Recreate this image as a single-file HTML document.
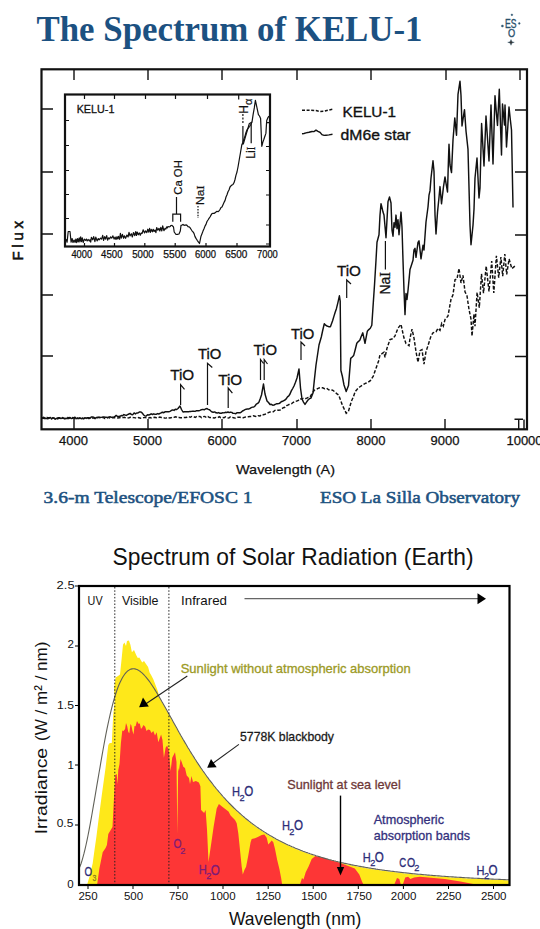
<!DOCTYPE html>
<html><head><meta charset="utf-8">
<style>
html,body{margin:0;padding:0;background:#fff;width:540px;height:929px;overflow:hidden}
svg{display:block}
.sans{font-family:"Liberation Sans",sans-serif}
.serif{font-family:"Liberation Serif",serif}
</style></head>
<body>
<svg width="540" height="929" viewBox="0 0 540 929">
<!-- ===== TITLE ===== -->
<text class="serif" x="36.5" y="40.5" font-size="35" font-weight="bold" fill="#1c5181" textLength="386" lengthAdjust="spacingAndGlyphs">The Spectrum of KELU-1</text>
<!-- ESO logo -->
<g fill="#28506c" stroke="#28506c" stroke-width="0.35">
<circle cx="511.9" cy="14.8" r="0.9"/>
<circle cx="502.4" cy="26" r="1.1"/>
<circle cx="519.3" cy="23.4" r="0.9"/>
<text class="sans" x="510.7" y="27.6" font-size="12.5" text-anchor="middle" textLength="11.5" lengthAdjust="spacingAndGlyphs">ES</text>
<text class="sans" x="511.5" y="37.2" font-size="11.5" text-anchor="middle" textLength="7.2" lengthAdjust="spacingAndGlyphs">O</text>
<path d="M511 39.5 L512 41.8 L514.3 42.3 L512 43 L511 45.3 L510 43 L507.7 42.3 L510 41.8Z" fill="#333"/>
</g>

<!-- ===== CHART 1 ===== -->
<g id="c1" stroke="#111" fill="none">
<rect x="41.5" y="69.3" width="485.5" height="360" stroke-width="2.2"/>
<!-- top ticks -->
<path d="M74 69.5V80 M148 69.5V80 M222 69.5V80 M297 69.5V80 M371 69.5V80 M446 69.5V80 M520 69.5V80" stroke-width="1.4"/>
<!-- bottom ticks -->
<path d="M74 429V419 M148 429V419 M222 429V419 M297 429V419 M371 429V419 M445 429V419 M518.7 429V419.5 M524 429V419.5 M514.5 419.3H523" stroke-width="1.4"/>
<!-- left ticks -->
<path d="M41.5 109H53 M41.5 172H53 M41.5 234H53 M41.5 295H53 M41.5 356H53" stroke-width="1.4"/>
<!-- right ticks -->
<path d="M527 110H515 M527 172H515 M527 235H515 M527 295.5H515 M527 356.5H515" stroke-width="1.4"/>
</g>
<g class="sans" font-size="13" fill="#111" stroke="#111" stroke-width="0.25" text-anchor="middle">
<text x="73.5" y="445">4000</text>
<text x="147.5" y="445">5000</text>
<text x="222" y="445">6000</text>
<text x="296.5" y="445">7000</text>
<text x="371" y="445">8000</text>
<text x="445" y="445">9000</text>
<text x="524.5" y="445">10000</text>
</g>
<text class="sans" x="236" y="473.5" font-size="13.5" fill="#111" stroke="#111" stroke-width="0.25" textLength="99" lengthAdjust="spacingAndGlyphs">Wavelength (A)</text>
<text class="sans" transform="translate(23.2,260.5) rotate(-90)" font-size="15" fill="#111" stroke="#111" stroke-width="0.6" textLength="39.5" lengthAdjust="spacing">Flux</text>

<!-- inset -->
<g stroke="#111" fill="none">
<rect x="65" y="94.5" width="205" height="152" stroke-width="2.2"/>
</g>
<text class="sans" x="76.7" y="112.8" font-size="11" fill="#111" stroke="#111" stroke-width="0.3" textLength="37.7" lengthAdjust="spacingAndGlyphs">KELU-1</text>

<!-- legend -->
<path d="M302 110.2L309 110.2L316 110.6L320 111.4L324 111.2L328 110.2L332.5 109.3" stroke="#111" stroke-width="1.5" stroke-dasharray="3 1.6" fill="none"/>
<path d="M302 133.8L304 133.5L306 132.9L309 132.3L312 131.5L314 131.6L316 130.1L318 131.3L320 132.4L322 134.7L324 135.4L326 135.2L329 134.9L332.5 134.3" stroke="#111" stroke-width="1.4" fill="none"/>
<text class="sans" x="342.5" y="116.5" font-size="15" fill="#111" stroke="#111" stroke-width="0.35" textLength="53.5" lengthAdjust="spacingAndGlyphs">KELU-1</text>
<text class="sans" x="340.6" y="140" font-size="15" fill="#111" stroke="#111" stroke-width="0.35" textLength="70" lengthAdjust="spacingAndGlyphs">dM6e star</text>

<!-- chart1 curves -->
<path d="M42.0 418.5 L43.2 418.0 L44.4 418.6 L45.6 418.2 L46.8 418.6 L48.0 418.7 L49.2 417.6 L50.4 417.5 L51.6 419.0 L52.8 417.9 L54.0 417.9 L55.2 419.2 L56.4 418.3 L57.6 418.9 L58.8 418.3 L60.0 418.3 L61.2 418.5 L62.5 417.6 L63.8 418.5 L65.0 418.9 L66.2 418.2 L67.5 418.6 L68.8 418.5 L70.0 417.4 L71.2 418.6 L72.5 418.3 L73.8 417.7 L75.0 417.2 L76.2 418.7 L77.5 418.0 L78.8 418.4 L80.0 418.0 L81.2 418.7 L82.5 418.3 L83.8 418.7 L85.0 417.7 L86.2 418.4 L87.5 417.7 L88.8 418.6 L90.0 418.4 L91.2 417.0 L92.5 417.0 L93.8 417.1 L95.0 418.5 L96.2 417.5 L97.5 417.8 L98.8 417.2 L100.0 417.5 L101.2 417.4 L102.5 417.1 L103.8 416.9 L105.0 417.3 L106.2 417.2 L107.5 417.6 L108.8 417.1 L110.0 416.7 L111.2 417.3 L112.5 417.1 L113.8 417.2 L115.0 416.4 L116.2 415.4 L117.5 416.5 L118.8 416.5 L120.0 416.3 L121.2 415.5 L122.5 415.7 L123.8 414.6 L125.0 415.0 L126.3 415.4 L127.6 414.7 L128.9 414.0 L130.2 413.4 L131.5 414.6 L132.8 414.7 L134.1 412.9 L135.4 413.9 L136.7 413.0 L138.0 413.0 L139.5 411.9 L141.0 412.0 L142.3 413.1 L143.7 415.0 L145.0 416.0 L146.2 416.1 L147.5 414.7 L148.8 415.0 L150.0 414.5 L151.2 413.8 L152.5 414.5 L153.8 413.8 L155.0 414.4 L156.2 414.3 L157.5 413.6 L158.8 414.0 L160.0 413.3 L161.2 412.8 L162.5 412.3 L163.8 412.7 L165.0 411.8 L166.2 411.7 L167.5 411.8 L168.8 411.8 L170.0 411.4 L171.3 410.5 L172.7 409.9 L174.0 410.4 L175.3 409.2 L176.7 409.5 L178.0 408.5 L180.0 406.0 L181.5 409.5 L183.0 412.0 L184.4 411.7 L185.8 411.7 L187.2 411.7 L188.6 411.7 L190.0 411.4 L191.2 411.4 L192.5 411.2 L193.8 411.2 L195.0 411.4 L196.2 410.8 L197.5 410.6 L198.8 410.8 L200.0 410.4 L201.4 409.7 L202.8 409.4 L204.2 409.8 L205.6 408.9 L207.0 408.5 L208.2 409.4 L209.5 409.7 L210.8 411.0 L212.0 412.0 L213.3 412.3 L214.7 411.9 L216.0 412.8 L217.3 413.0 L218.7 412.6 L220.0 413.3 L221.3 413.2 L222.7 412.8 L224.0 412.9 L225.3 412.3 L226.7 412.5 L228.0 412.0 L229.2 412.6 L230.5 412.1 L231.8 412.4 L233.0 413.3 L234.4 413.4 L235.8 413.7 L237.2 412.7 L238.6 412.8 L240.0 412.8 L241.2 412.1 L242.5 411.0 L243.8 410.3 L245.0 409.7 L246.2 409.2 L247.5 408.9 L248.8 408.9 L250.0 408.5 L251.2 407.6 L252.5 407.1 L253.8 407.0 L255.0 406.0 L256.3 404.1 L257.7 403.4 L259.0 402.0 L260.2 398.8 L261.5 395.0 L263.5 384.0 L265.0 394.0 L267.0 401.0 L268.5 402.5 L270.0 404.5 L271.3 404.3 L272.7 405.2 L274.0 405.0 L275.2 404.3 L276.4 403.8 L277.6 403.7 L278.8 403.6 L280.0 403.0 L281.2 401.8 L282.5 401.3 L283.8 400.6 L285.0 400.0 L286.2 398.9 L287.5 396.9 L288.8 395.9 L290.0 394.0 L291.3 390.9 L292.7 388.5 L294.0 386.0 L295.5 382.2 L297.0 378.0 L299.0 369.0 L300.5 388.0 L302.0 399.0 L303.5 402.1 L305.0 404.4 L306.5 402.2 L308.0 400.0 L309.5 398.7 L311.0 398.0 L313.0 393.0 L314.5 378.6 L316.0 365.0 L317.5 355.0 L319.0 345.0 L321.3 337.0 L322.8 330.0 L324.3 323.7 L325.6 325.2 L327.0 326.0 L328.7 326.7 L330.4 326.8 L332.6 320.7 L333.9 316.4 L335.1 312.5 L336.4 308.7 L337.9 302.6 L339.4 295.8 L340.2 301.0 L340.9 370.5 L342.4 376.5 L344.0 385.0 L346.2 391.6 L348.5 385.6 L350.7 358.4 L352.2 357.0 L353.7 355.4 L355.2 349.7 L356.8 343.3 L358.3 341.6 L359.8 340.3 L361.3 336.2 L362.8 332.8 L365.0 343.3 L367.3 331.3 L368.8 329.6 L370.3 328.3 L371.8 325.2 L373.3 302.6 L374.5 285.0 L376.0 260.3 L377.0 242.3 L379.0 234.7 L380.0 215.1 L381.0 203.8 L382.0 207.6 L383.0 212.1 L384.0 215.0 L386.0 237.7 L388.0 201.6 L389.5 197.0 L391.0 203.0 L392.0 230.2 L393.0 236.2 L394.0 222.7 L395.0 227.2 L396.0 215.1 L397.0 228.7 L398.0 219.7 L399.0 234.7 L401.0 212.1 L402.0 227.2 L403.0 260.3 L404.0 290.5 L405.0 314.6 L406.0 293.5 L407.0 299.5 L408.0 290.5 L410.0 269.4 L411.0 266.4 L413.0 260.3 L414.0 249.8 L415.0 248.3 L416.0 257.3 L418.0 242.3 L419.0 240.8 L421.0 258.8 L423.0 245.3 L424.0 250.0 L426.0 222.0 L428.0 207.0 L429.0 195.2 L430.0 190.9 L431.0 178.0 L433.0 160.8 L434.0 171.5 L435.0 214.6 L436.0 234.0 L437.5 212.4 L438.8 199.5 L440.0 186.6 L441.5 203.8 L443.5 186.6 L445.0 176.9 L446.2 184.4 L447.5 192.0 L448.5 158.6 L449.0 144.3 L450.0 165.0 L451.5 172.6 L453.0 140.0 L454.8 117.9 L456.5 135.2 L458.0 94.4 L460.0 81.2 L461.0 95.5 L462.0 126.0 L463.2 117.8 L464.5 109.7 L466.0 131.0 L468.0 149.4 L470.0 225.3 L471.0 244.7 L473.0 225.3 L474.0 209.2 L475.0 178.0 L477.0 158.0 L479.0 198.0 L480.0 188.0 L481.6 123.5 L484.0 166.0 L486.0 116.0 L487.5 138.5 L489.0 161.0 L491.0 105.0 L493.0 164.0 L495.0 95.7 L496.2 110.6 L497.5 125.4 L499.3 89.3 L501.5 155.0 L502.5 104.0 L504.5 125.0 L505.0 105.0 L506.5 147.0 L507.8 127.0 L509.0 107.0 L510.2 118.5 L511.5 130.0 L513.0 207.5" stroke="#111" stroke-width="1.45" fill="none" stroke-linejoin="round"/>
<path d="M42.0 418.0 L43.6 417.3 L45.2 418.3 L46.8 417.5 L48.4 417.7 L50.1 418.2 L51.7 418.0 L53.3 417.9 L54.9 418.6 L56.5 418.2 L58.1 417.8 L59.7 417.7 L61.3 418.5 L62.9 418.0 L64.6 418.4 L66.2 417.8 L67.8 417.6 L69.4 418.0 L71.0 418.4 L72.6 417.5 L74.2 418.4 L75.8 418.6 L77.4 418.4 L79.1 418.5 L80.7 417.3 L82.3 418.2 L83.9 418.5 L85.5 417.4 L87.1 417.7 L88.7 417.7 L90.3 418.0 L91.9 417.9 L93.6 418.0 L95.2 418.4 L96.8 417.3 L98.4 417.4 L100.0 417.5 L101.6 417.5 L103.2 417.4 L104.8 418.6 L106.5 418.5 L108.1 417.4 L109.7 417.9 L111.3 417.7 L112.9 417.7 L114.5 417.7 L116.1 418.1 L117.7 418.0 L119.4 417.7 L121.0 417.4 L122.6 417.6 L124.2 417.3 L125.8 417.9 L127.4 418.1 L129.0 417.7 L130.6 417.2 L132.3 417.4 L133.9 417.6 L135.5 417.9 L137.1 418.2 L138.7 417.6 L140.3 418.2 L141.9 417.9 L143.5 417.6 L145.2 417.6 L146.8 417.7 L148.4 418.0 L150.0 417.6 L151.6 417.9 L153.2 417.6 L154.8 417.3 L156.5 417.7 L158.1 417.9 L159.7 417.0 L161.3 417.4 L162.9 417.4 L164.5 418.0 L166.1 418.1 L167.7 417.3 L169.4 418.0 L171.0 417.8 L172.6 417.1 L174.2 417.3 L175.8 416.8 L177.4 417.8 L179.0 417.5 L180.6 417.8 L182.3 417.7 L183.9 417.5 L185.5 417.5 L187.1 417.3 L188.7 416.6 L190.3 417.3 L191.9 416.4 L193.5 416.6 L195.2 417.5 L196.8 416.4 L198.4 416.5 L200.0 416.4 L201.6 417.6 L203.2 416.6 L204.8 416.4 L206.4 417.6 L208.0 416.6 L209.6 417.6 L211.2 417.4 L212.8 417.7 L214.4 417.9 L216.0 417.4 L217.6 417.7 L219.2 416.7 L220.8 417.7 L222.4 417.4 L224.0 417.7 L225.6 416.9 L227.2 417.8 L228.8 418.1 L230.4 416.9 L232.0 417.3 L233.6 417.7 L235.2 418.1 L236.8 417.3 L238.4 417.2 L240.0 417.3 L241.7 417.7 L243.3 417.7 L245.0 417.1 L246.7 416.8 L248.3 416.7 L250.0 416.5 L251.7 416.4 L253.3 415.8 L255.0 416.2 L256.7 416.7 L258.3 415.7 L260.0 416.0 L261.7 414.6 L263.3 414.7 L265.0 414.2 L266.7 413.5 L268.3 412.6 L270.0 412.0 L271.7 411.8 L273.3 411.7 L275.0 410.3 L276.7 409.8 L278.3 410.3 L280.0 410.1 L281.7 408.7 L283.3 407.7 L285.0 407.3 L286.7 405.7 L288.3 404.9 L290.0 404.0 L291.7 403.6 L293.3 402.3 L295.0 401.3 L296.7 401.1 L298.3 400.5 L300.0 398.7 L301.7 399.1 L303.3 398.4 L305.0 398.8 L306.7 398.2 L308.3 397.5 L310.0 397.2 L312.2 393.2 L314.5 390.1 L316.5 389.2 L318.6 388.1 L320.6 387.6 L322.6 387.8 L324.6 388.7 L326.6 388.1 L328.6 389.8 L330.6 389.6 L332.6 390.2 L334.6 391.6 L336.7 393.6 L338.7 395.1 L340.5 400.0 L342.4 405.2 L344.3 409.3 L346.2 413.2 L348.5 411.1 L351.5 401.0 L353.4 396.8 L355.2 391.6 L357.2 389.2 L359.3 387.2 L361.3 385.9 L363.6 384.3 L365.8 383.2 L368.1 382.3 L370.3 380.7 L373.3 376.1 L376.4 367.2 L378.6 361.0 L380.0 354.8 L382.0 353.7 L384.0 352.2 L385.0 357.4 L387.0 348.2 L390.0 339.5 L393.0 338.6 L395.0 335.9 L398.0 328.1 L401.0 324.3 L403.0 333.7 L404.0 338.1 L406.0 343.5 L409.0 345.7 L410.0 338.3 L412.0 329.1 L414.0 338.2 L416.0 351.6 L418.0 362.2 L420.0 350.7 L422.0 349.6 L424.0 364.1 L426.0 351.5 L428.0 345.6 L431.0 336.1 L433.0 332.8 L436.0 331.8 L438.0 328.3 L440.0 330.3 L441.7 323.4 L443.3 326.1 L445.0 319.6 L448.0 316.0 L451.0 299.3 L453.0 294.8 L455.0 279.7 L457.0 279.0 L459.0 268.4 L461.0 283.0 L463.0 275.3 L465.0 291.8 L467.0 295.9 L469.0 309.4 L471.0 319.1 L472.0 336.1 L474.0 314.0 L475.0 326.3 L477.1 292.4 L479.3 307.7 L481.5 273.9 L483.5 293.1 L486.2 266.1 L489.0 291.5 L491.7 261.1 L493.8 293.0 L496.4 255.8 L498.7 277.7 L500.9 257.1 L502.7 276.1 L504.8 254.1 L506.7 274.4 L509.1 259.0 L511.8 268.6 L515.0 266.0" stroke="#111" stroke-width="1.45" fill="none" stroke-dasharray="3.5 1.8"/>
<path d="M66.0 239.1 L67.1 242.3 L68.2 231.5 L69.2 231.5 L70.0 231.5 L71.1 242.2 L72.1 238.5 L73.0 242.5 L74.1 240.0 L75.1 242.4 L75.9 239.0 L76.7 242.6 L77.5 238.6 L78.3 241.8 L79.2 237.8 L79.9 241.8 L80.7 236.8 L81.5 241.6 L82.3 237.9 L83.2 242.5 L84.3 239.1 L85.5 240.3 L86.4 239.1 L87.2 241.0 L88.2 239.5 L89.3 241.0 L90.0 239.7 L90.7 242.1 L91.4 237.4 L92.7 239.8 L93.7 236.6 L94.9 241.7 L95.8 237.1 L97.1 240.9 L98.3 238.6 L99.2 239.8 L100.5 238.1 L101.6 239.2 L102.7 235.3 L103.6 240.4 L104.7 236.6 L105.6 239.1 L106.7 235.6 L107.6 240.2 L108.7 237.8 L109.7 238.8 L110.5 236.9 L111.7 238.1 L112.9 235.9 L114.1 239.1 L115.1 237.0 L116.0 239.5 L117.0 236.7 L117.8 239.0 L118.5 236.4 L119.6 239.3 L120.4 233.3 L121.3 238.1 L122.4 234.3 L123.6 238.3 L124.4 235.8 L125.6 238.3 L126.9 235.0 L128.1 236.9 L129.0 232.4 L130.0 235.9 L131.3 233.7 L132.3 237.0 L133.5 232.5 L134.7 235.6 L135.7 231.7 L136.4 235.5 L137.2 232.0 L138.3 234.8 L139.4 232.9 L140.3 235.2 L141.2 233.0 L142.1 233.4 L143.2 229.8 L144.5 233.0 L145.5 230.9 L146.8 232.5 L147.8 229.2 L148.7 232.1 L149.6 228.3 L150.4 232.3 L151.3 229.4 L152.4 231.8 L153.2 229.3 L154.1 231.5 L155.0 230.1 L155.9 232.6 L156.7 227.5 L157.8 230.2 L159.0 228.4 L159.8 231.0 L160.8 227.4 L161.8 231.0 L162.7 225.8 L163.9 230.7 L165.1 228.4 L165.9 229.0 L166.7 226.9 L167.5 227.8 L168.0 226.5 L169.0 226.8 L170.0 226.6 L171.0 225.5 L172.0 225.4 L173.5 227.0 L174.2 232.0 L176.0 234.5 L177.0 234.4 L178.0 234.3 L179.0 234.0 L180.3 231.0 L181.0 225.4 L182.0 225.1 L183.0 224.4 L184.0 225.3 L185.0 225.2 L186.0 224.9 L187.0 225.4 L188.0 226.6 L189.0 226.8 L190.0 227.6 L191.0 229.2 L192.0 230.8 L193.0 231.9 L194.0 233.4 L195.0 236.6 L196.0 238.4 L197.2 240.3 L198.3 241.8 L199.5 243.5 L201.0 236.2 L202.0 233.7 L203.0 231.1 L204.0 228.7 L205.0 226.1 L206.0 224.4 L207.0 221.5 L208.0 220.0 L209.0 218.4 L210.0 217.0 L211.0 215.1 L212.0 213.6 L213.0 213.3 L214.0 213.4 L215.0 212.9 L216.0 212.0 L217.0 211.3 L218.0 211.7 L219.0 210.9 L220.0 209.5 L221.0 207.5 L222.0 207.0 L223.0 204.7 L224.0 202.4 L225.0 200.6 L226.0 197.0 L227.0 194.7 L228.0 191.7 L229.0 190.0 L230.0 187.0 L231.0 185.8 L232.0 185.0 L233.0 184.4 L234.0 182.8 L235.0 179.5 L236.0 175.1 L237.0 172.0 L238.1 166.5 L239.2 160.0 L240.5 152.5 L241.8 144.8 L242.9 142.4 L243.9 139.1 L245.0 136.1 L246.0 132.5 L247.1 129.7 L248.3 128.2 L249.6 126.5 L250.8 124.5 L252.0 122.1 L253.1 114.7 L254.3 107.9 L255.4 100.3 L256.9 107.4 L258.4 114.6 L259.5 116.0 L260.6 118.4 L261.8 146.3 L262.8 142.4 L263.9 139.3 L264.9 136.2 L265.9 133.4 L266.7 120.6 L267.8 117.9 L268.9 116.1" stroke="#111" stroke-width="1.2" fill="none" stroke-linejoin="round"/>
<!-- inset ticks -->
<path d="M84.5 95V99 M114.5 95V99 M145.5 95V99 M175.5 95V99 M207.5 95V99 M238.7 95V99.5 M65 120.5H69 M65 145.5H69 M65 170.5H69 M65 194.5H69 M65 218.5H69 M270 122.6H266 M270 146.5H266 M270 170.5H266 M270 195H266 M270 225H266 M270 244H266 M84.5 246V243 M114.5 246V243 M144.8 246V243 M175.2 246V243 M206 246V243 M237 246V243" stroke="#111" stroke-width="1.2" fill="none"/>
<g class="sans" font-size="10.2" fill="#111" stroke="#111" stroke-width="0.25" text-anchor="middle">
<text x="81.8" y="257.8" textLength="20.7" lengthAdjust="spacingAndGlyphs">4000</text>
<text x="111.8" y="257.8" textLength="21.5" lengthAdjust="spacingAndGlyphs">4500</text>
<text x="143" y="257.8" textLength="21.5" lengthAdjust="spacingAndGlyphs">5000</text>
<text x="174.8" y="257.8" textLength="23" lengthAdjust="spacingAndGlyphs">5500</text>
<text x="205.4" y="257.8" textLength="21" lengthAdjust="spacingAndGlyphs">6000</text>
<text x="236.3" y="257.8" textLength="22.2" lengthAdjust="spacingAndGlyphs">6500</text>
<text x="267.4" y="257.8" textLength="20.8" lengthAdjust="spacingAndGlyphs">7000</text>
</g>
<!-- inset annotations -->
<g stroke="#111" stroke-width="1.2" fill="none">
<path d="M172.8 221.7V214.1H180.6V221.7 M176.5 214.1V197"/>
<path d="M198 206V218" stroke-dasharray="1.6 1.3"/>
<path d="M242.9 113.9V124" stroke-dasharray="2 1.5"/><path d="M242.9 126V144.8"/>
<path d="M251.2 143.2V123"/>
<path d="M243.3 144L249.3 123.6L252 122.1"/>
</g>
<g class="sans" font-size="10.5" fill="#111" stroke="#111" stroke-width="0.2">
<text transform="translate(181.5,194.7) rotate(-90)" textLength="34.5" lengthAdjust="spacingAndGlyphs">Ca OH</text>
<text transform="translate(203.5,205) rotate(-90)" textLength="19.4" lengthAdjust="spacingAndGlyphs">Na<tspan font-family="Liberation Serif">I</tspan></text>
<text transform="translate(247.8,113.7) rotate(-90)" font-size="12">H</text>
<text transform="translate(251.6,105) rotate(-90)" font-size="11">&#945;</text>
<text transform="translate(255.4,158.6) rotate(-90)" font-size="12.2" textLength="11.8" lengthAdjust="spacingAndGlyphs">Li<tspan font-family="Liberation Serif">I</tspan></text>
</g>
<!-- main annotations -->
<g stroke="#111" stroke-width="1.2" fill="none">
<path d="M184.5 389.3L180.6 384.7V405"/>
<path d="M212.3 367.5L207.5 363.3V405"/>
<path d="M232.4 393.2L228.2 388V408"/>
<path d="M260.5 380V359.5L263.5 363.5 M264.2 380V359.5L267.5 364"/>
<path d="M305 346L301 342V360"/>
<path d="M351 284L346.7 280V298"/>
<path d="M385.4 269.5V241"/>
</g>
<g class="sans" font-size="14.5" fill="#111" stroke="#111" stroke-width="0.3">
<text x="170.2" y="380.2" textLength="24" lengthAdjust="spacingAndGlyphs">TiO</text>
<text x="198" y="359.2" textLength="23.4" lengthAdjust="spacingAndGlyphs">TiO</text>
<text x="218.2" y="385.3" textLength="24" lengthAdjust="spacingAndGlyphs">TiO</text>
<text x="253.6" y="355" textLength="23.4" lengthAdjust="spacingAndGlyphs">TiO</text>
<text x="291" y="339" textLength="23.4" lengthAdjust="spacingAndGlyphs">TiO</text>
<text x="336.9" y="275.6" textLength="24" lengthAdjust="spacingAndGlyphs">TiO</text>
<text transform="translate(390.3,294.6) rotate(-90)" textLength="22.5" lengthAdjust="spacingAndGlyphs">Na<tspan font-family="Liberation Serif">I</tspan></text>
</g>

<!-- ===== CAPTIONS ===== -->
<text class="serif" x="43.6" y="503.3" font-size="17.4" fill="#1d5281" stroke="#1d5281" stroke-width="0.55" textLength="209" lengthAdjust="spacingAndGlyphs">3.6-m Telescope/EFOSC 1</text>
<text class="serif" x="320" y="503.3" font-size="17.4" fill="#1d5281" stroke="#1d5281" stroke-width="0.55" textLength="200" lengthAdjust="spacingAndGlyphs">ESO La Silla Observatory</text>

<!-- ===== CHART 2 ===== -->
<text class="sans" x="112.5" y="564.5" font-size="23.6" fill="#111" textLength="361" lengthAdjust="spacingAndGlyphs">Spectrum of Solar Radiation (Earth)</text>
<path d="M87.0 885.0 L90.0 875.0 L92.7 863.3 L94.5 850.0 L96.4 836.8 L98.5 820.0 L102.0 793.4 L105.5 768.2 L108.3 745.0 L109.7 743.0 L111.8 743.0 L113.2 715.0 L114.8 700.0 L114.0 689.0 L115.6 677.4 L118.0 676.0 L120.0 674.4 L121.5 660.0 L123.0 644.8 L124.4 642.6 L126.0 646.0 L127.0 641.0 L128.9 640.4 L130.4 644.8 L131.9 652.2 L134.0 650.0 L136.3 655.2 L137.8 658.0 L139.3 657.4 L142.2 662.6 L144.0 661.0 L146.0 664.0 L148.1 667.0 L149.6 672.6 L151.1 675.0 L153.3 679.3 L155.6 685.2 L157.8 691.1 L158.5 694.0 L159.0 697.1 L161.0 700.5 L163.0 704.0 L165.0 707.6 L167.0 711.2 L169.0 714.8 L171.0 718.4 L173.0 722.0 L175.0 725.6 L177.0 729.2 L179.0 732.8 L181.0 736.3 L183.0 739.8 L185.0 743.2 L187.0 746.6 L189.0 749.9 L191.0 753.2 L193.0 756.4 L195.0 759.6 L197.0 762.7 L199.0 765.7 L201.0 768.7 L203.0 771.6 L205.0 774.4 L207.0 777.2 L209.0 779.9 L211.0 782.5 L213.0 785.1 L215.0 787.6 L217.0 790.1 L219.0 792.5 L221.0 794.8 L223.0 797.1 L225.0 799.3 L227.0 801.5 L229.0 803.6 L231.0 805.6 L233.0 807.6 L235.0 809.5 L237.0 811.4 L239.0 813.2 L241.0 815.0 L243.0 816.8 L245.0 818.5 L247.0 820.1 L249.0 821.7 L251.0 823.3 L253.0 824.8 L255.0 826.2 L257.0 827.7 L259.0 829.1 L261.0 830.4 L263.0 831.7 L265.0 833.0 L267.0 834.3 L269.0 835.5 L271.0 836.7 L273.0 837.8 L275.0 838.9 L277.0 840.0 L279.0 841.1 L281.0 842.1 L283.0 843.1 L285.0 844.1 L287.0 845.0 L289.0 845.9 L291.0 846.8 L293.0 847.7 L295.0 848.6 L297.0 849.4 L299.0 850.2 L301.0 851.0 L303.0 851.8 L305.0 852.5 L307.0 853.2 L309.0 853.9 L311.0 854.6 L313.0 855.3 L315.0 855.9 L317.0 856.6 L319.0 857.2 L321.0 857.8 L323.0 858.4 L325.0 859.0 L327.0 859.5 L329.0 860.1 L331.0 860.6 L333.0 861.1 L335.0 861.6 L337.0 862.1 L339.0 862.6 L341.0 863.1 L343.0 863.5 L345.0 864.0 L347.0 864.4 L349.0 864.8 L351.0 865.3 L353.0 865.7 L355.0 866.1 L357.0 866.4 L359.0 866.8 L361.0 867.2 L363.0 867.5 L365.0 867.9 L367.0 868.2 L369.0 868.6 L371.0 868.9 L373.0 869.2 L375.0 869.5 L377.0 869.8 L379.0 870.1 L381.0 870.4 L383.0 870.7 L385.0 871.0 L387.0 871.2 L389.0 871.5 L391.0 871.8 L393.0 872.0 L395.0 872.3 L397.0 872.5 L399.0 872.7 L401.0 873.0 L403.0 873.2 L405.0 873.4 L407.0 873.6 L409.0 873.9 L411.0 874.1 L413.0 874.3 L415.0 874.5 L417.0 874.7 L419.0 874.8 L421.0 875.0 L423.0 875.2 L425.0 875.4 L427.0 875.6 L429.0 875.7 L431.0 875.9 L433.0 876.1 L435.0 876.2 L437.0 876.4 L439.0 876.5 L441.0 876.7 L443.0 876.8 L445.0 877.0 L447.0 877.1 L449.0 877.3 L451.0 877.4 L453.0 877.5 L455.0 877.7 L457.0 877.8 L459.0 877.9 L461.0 878.0 L463.0 878.2 L465.0 878.3 L467.0 878.4 L469.0 878.5 L471.0 878.6 L473.0 878.7 L475.0 878.8 L477.0 878.9 L479.0 879.0 L481.0 879.1 L483.0 879.2 L485.0 879.3 L487.0 879.4 L489.0 879.5 L491.0 879.6 L493.0 879.7 L495.0 879.8 L497.0 879.9 L499.0 880.0 L501.0 880.1 L503.0 880.1 L505.0 880.2 L507.0 880.3 L509.0 880.4 L509.5 879.5 L509.5 885.0 Z" fill="#fee81a"/>
<path d="M97.1 885.0 L99.3 868.9 L102.7 852.2 L105.6 848.0 L106.9 845.0 L108.3 834.0 L112.5 827.0 L113.9 799.0 L115.3 775.0 L116.7 774.0 L117.5 784.0 L118.3 770.0 L119.5 764.0 L120.9 743.0 L122.3 730.4 L123.5 731.0 L125.1 729.0 L126.0 723.0 L127.2 726.2 L128.3 732.0 L129.3 733.2 L130.5 724.0 L131.4 725.5 L132.5 731.0 L133.5 734.6 L134.5 726.0 L135.6 726.2 L137.0 721.0 L138.5 723.7 L139.8 723.4 L141.0 729.0 L142.2 727.4 L143.5 725.0 L145.2 726.7 L146.5 731.0 L148.1 729.6 L150.0 730.0 L151.5 733.0 L153.3 731.1 L155.0 735.6 L156.7 732.2 L158.3 742.2 L161.1 734.4 L162.5 740.0 L163.9 757.8 L165.6 747.8 L167.2 745.6 L168.9 751.0 L170.6 771.0 L172.2 757.8 L175.0 752.2 L176.5 762.0 L177.3 834.0 L178.2 768.0 L178.9 771.0 L180.6 758.9 L183.3 766.7 L185.0 768.0 L186.7 775.6 L189.0 778.0 L190.0 784.0 L191.5 776.0 L193.0 781.9 L195.9 781.1 L198.9 782.6 L200.4 786.3 L201.1 810.0 L204.1 813.0 L205.6 810.0 L207.0 829.3 L208.5 861.9 L210.7 847.0 L213.7 826.3 L216.7 808.5 L218.9 804.1 L222.6 807.0 L228.5 811.5 L230.6 815.6 L235.0 820.0 L236.7 823.3 L238.3 833.3 L240.0 850.0 L241.7 866.7 L242.8 874.4 L244.4 870.0 L246.1 866.7 L248.3 855.6 L250.6 842.2 L251.7 838.9 L255.0 838.3 L258.3 836.7 L261.7 835.0 L264.4 834.4 L266.7 837.8 L268.3 844.4 L269.4 843.3 L271.7 840.6 L273.3 842.2 L275.0 848.9 L277.2 860.0 L279.4 868.9 L281.1 877.8 L282.2 885.0 L299.8 885.0 L302.0 878.1 L303.5 879.6 L305.7 872.2 L308.7 866.3 L311.7 858.9 L315.4 855.9 L318.3 856.7 L324.3 858.1 L331.7 860.4 L339.0 862.5 L348.9 866.3 L354.8 868.5 L359.3 874.4 L362.2 881.9 L363.7 885.0 L394.1 885.0 L397.0 878.1 L399.3 878.9 L400.7 884.0 L403.0 884.0 L405.2 877.4 L408.1 876.7 L410.4 878.9 L414.1 877.4 L420.0 876.7 L444.8 879.0 L460.4 881.5 L478.5 885.0 Z" fill="#fd3636"/>
<path d="M79.0 868.9 L80.0 866.4 L81.0 863.7 L82.0 860.6 L83.0 857.1 L84.0 853.4 L85.0 849.3 L86.0 845.0 L87.0 840.3 L88.0 835.5 L89.0 830.4 L90.0 825.1 L91.0 819.6 L92.0 814.0 L93.0 808.2 L94.0 802.4 L95.0 796.6 L96.0 790.7 L97.0 784.7 L98.0 778.9 L99.0 773.0 L100.0 767.3 L101.0 761.4 L102.0 755.6 L103.0 750.0 L104.0 744.5 L105.0 739.1 L106.0 733.9 L107.0 728.9 L108.0 724.1 L109.0 719.5 L110.0 715.1 L111.0 710.9 L112.0 706.9 L113.0 703.1 L114.0 699.5 L115.0 696.1 L116.0 693.0 L117.0 690.0 L118.0 687.3 L119.0 684.8 L120.0 682.5 L121.0 680.4 L122.0 678.4 L123.0 676.7 L124.0 675.2 L125.0 673.8 L126.0 672.6 L127.0 671.6 L128.0 670.7 L129.0 670.1 L130.0 669.5 L131.0 669.1 L132.0 668.9 L133.0 668.8 L134.0 668.8 L135.0 668.9 L136.0 669.2 L137.0 669.6 L138.0 670.0 L139.0 670.6 L140.0 671.3 L141.0 672.1 L142.0 672.9 L143.0 673.9 L144.0 674.9 L145.0 676.0 L146.0 677.1 L147.0 678.3 L148.0 679.6 L149.0 680.9 L150.0 682.3 L151.0 683.7 L152.0 685.2 L153.0 686.7 L154.0 688.3 L155.0 689.9 L156.0 691.5 L157.0 693.1 L158.0 694.8 L159.0 696.5 L160.0 698.2 L161.0 699.9 L162.0 701.7 L163.0 703.4 L164.0 705.2 L165.0 707.0 L166.0 708.8 L167.0 710.6 L168.0 712.4 L169.0 714.2 L170.0 716.0 L171.0 717.8 L172.0 719.6 L173.0 721.4 L174.0 723.2 L175.0 725.0 L176.0 726.8 L177.0 728.6 L178.0 730.4 L179.0 732.2 L180.0 733.9 L181.0 735.7 L182.0 737.4 L183.0 739.2 L184.0 740.9 L185.0 742.6 L186.0 744.3 L187.0 746.0 L188.0 747.7 L189.0 749.3 L190.0 751.0 L191.0 752.6 L192.0 754.2 L193.0 755.8 L194.0 757.4 L195.0 759.0 L196.0 760.5 L197.0 762.1 L198.0 763.6 L199.0 765.1 L200.0 766.6 L201.0 768.1 L202.0 769.5 L203.0 771.0 L204.0 772.4 L205.0 773.8 L206.0 775.2 L207.0 776.6 L208.0 777.9 L209.0 779.3 L210.0 780.6 L211.0 781.9 L212.0 783.2 L213.0 784.5 L214.0 785.8 L215.0 787.0 L216.0 788.3 L217.0 789.5 L218.0 790.7 L219.0 791.9 L220.0 793.0 L221.0 794.2 L222.0 795.3 L223.0 796.5 L224.0 797.6 L225.0 798.7 L226.0 799.8 L227.0 800.9 L228.0 801.9 L229.0 803.0 L230.0 804.0 L231.0 805.0 L232.0 806.0 L233.0 807.0 L234.0 808.0 L235.0 808.9 L236.0 809.9 L237.0 810.8 L238.0 811.7 L239.0 812.6 L240.0 813.5 L241.0 814.4 L242.0 815.3 L243.0 816.2 L244.0 817.0 L245.0 817.9 L246.0 818.7 L247.0 819.5 L248.0 820.3 L249.0 821.1 L250.0 821.9 L251.0 822.7 L252.0 823.4 L253.0 824.2 L254.0 824.9 L255.0 825.6 L256.0 826.4 L257.0 827.1 L258.0 827.8 L259.0 828.5 L260.0 829.1 L261.0 829.8 L262.0 830.5 L263.0 831.1 L264.0 831.8 L265.0 832.4 L266.0 833.0 L267.0 833.7 L268.0 834.3 L269.0 834.9 L270.0 835.5 L271.0 836.1 L272.0 836.6 L273.0 837.2 L274.0 837.8 L275.0 838.3 L276.0 838.9 L277.0 839.4 L278.0 839.9 L279.0 840.5 L280.0 841.0 L281.0 841.5 L282.0 842.0 L283.0 842.5 L284.0 843.0 L285.0 843.5 L286.0 844.0 L287.0 844.4 L288.0 844.9 L289.0 845.3 L290.0 845.8 L291.0 846.2 L292.0 846.7 L293.0 847.1 L294.0 847.5 L295.0 848.0 L296.0 848.4 L297.0 848.8 L298.0 849.2 L299.0 849.6 L300.0 850.0 L301.0 850.4 L302.0 850.8 L303.0 851.2 L304.0 851.5 L305.0 851.9 L306.0 852.3 L307.0 852.6 L308.0 853.0 L309.0 853.3 L310.0 853.7 L311.0 854.0 L312.0 854.4 L313.0 854.7 L314.0 855.0 L315.0 855.3 L316.0 855.7 L317.0 856.0 L318.0 856.3 L319.0 856.6 L320.0 856.9 L321.0 857.2 L322.0 857.5 L323.0 857.8 L324.0 858.1 L325.0 858.4 L326.0 858.7 L327.0 858.9 L328.0 859.2 L329.0 859.5 L330.0 859.7 L331.0 860.0 L332.0 860.3 L333.0 860.5 L334.0 860.8 L335.0 861.0 L336.0 861.3 L337.0 861.5 L338.0 861.8 L339.0 862.0 L340.0 862.2 L341.0 862.5 L342.0 862.7 L343.0 862.9 L344.0 863.2 L345.0 863.4 L346.0 863.6 L347.0 863.8 L348.0 864.0 L349.0 864.2 L350.0 864.4 L351.0 864.7 L352.0 864.9 L353.0 865.1 L354.0 865.3 L355.0 865.5 L356.0 865.6 L357.0 865.8 L358.0 866.0 L359.0 866.2 L360.0 866.4 L361.0 866.6 L362.0 866.8 L363.0 866.9 L364.0 867.1 L365.0 867.3 L366.0 867.5 L367.0 867.6 L368.0 867.8 L369.0 868.0 L370.0 868.1 L371.0 868.3 L372.0 868.5 L373.0 868.6 L374.0 868.8 L375.0 868.9 L376.0 869.1 L377.0 869.2 L378.0 869.4 L379.0 869.5 L380.0 869.7 L381.0 869.8 L382.0 870.0 L383.0 870.1 L384.0 870.2 L385.0 870.4 L386.0 870.5 L387.0 870.6 L388.0 870.8 L389.0 870.9 L390.0 871.0 L391.0 871.2 L392.0 871.3 L393.0 871.4 L394.0 871.5 L395.0 871.7 L396.0 871.8 L397.0 871.9 L398.0 872.0 L399.0 872.1 L400.0 872.3 L401.0 872.4 L402.0 872.5 L403.0 872.6 L404.0 872.7 L405.0 872.8 L406.0 872.9 L407.0 873.0 L408.0 873.1 L409.0 873.3 L410.0 873.4 L411.0 873.5 L412.0 873.6 L413.0 873.7 L414.0 873.8 L415.0 873.9 L416.0 874.0 L417.0 874.1 L418.0 874.2 L419.0 874.2 L420.0 874.3 L421.0 874.4 L422.0 874.5 L423.0 874.6 L424.0 874.7 L425.0 874.8 L426.0 874.9 L427.0 875.0 L428.0 875.1 L429.0 875.1 L430.0 875.2 L431.0 875.3 L432.0 875.4 L433.0 875.5 L434.0 875.6 L435.0 875.6 L436.0 875.7 L437.0 875.8 L438.0 875.9 L439.0 875.9 L440.0 876.0 L441.0 876.1 L442.0 876.2 L443.0 876.2 L444.0 876.3 L445.0 876.4 L446.0 876.5 L447.0 876.5 L448.0 876.6 L449.0 876.7 L450.0 876.7 L451.0 876.8 L452.0 876.9 L453.0 876.9 L454.0 877.0 L455.0 877.1 L456.0 877.1 L457.0 877.2 L458.0 877.3 L459.0 877.3 L460.0 877.4 L461.0 877.4 L462.0 877.5 L463.0 877.6 L464.0 877.6 L465.0 877.7 L466.0 877.7 L467.0 877.8 L468.0 877.9 L469.0 877.9 L470.0 878.0 L471.0 878.0 L472.0 878.1 L473.0 878.1 L474.0 878.2 L475.0 878.2 L476.0 878.3 L477.0 878.3 L478.0 878.4 L479.0 878.4 L480.0 878.5 L481.0 878.5 L482.0 878.6 L483.0 878.6 L484.0 878.7 L485.0 878.7 L486.0 878.8 L487.0 878.8 L488.0 878.9 L489.0 878.9 L490.0 879.0 L491.0 879.0 L492.0 879.1 L493.0 879.1 L494.0 879.2 L495.0 879.2 L496.0 879.2 L497.0 879.3 L498.0 879.3 L499.0 879.4 L500.0 879.4 L501.0 879.5 L502.0 879.5 L503.0 879.5 L504.0 879.6 L505.0 879.6 L506.0 879.7 L507.0 879.7 L508.0 879.7 L509.0 879.8" stroke="#606058" stroke-width="1.1" fill="none"/>
<path d="M114.8 587V885 M168.9 587V885" stroke="#222" stroke-width="1" stroke-dasharray="1.5 1.8" fill="none"/>
<g stroke="#000" fill="none">
<rect x="79" y="586" width="430.5" height="299" stroke-width="2.2"/>
<path d="M75 586H79 M75 646H79 M75 705.5H79 M75 765H79 M75 825H79 M88 885V889 M133 885V889 M178 885V889 M223 885V889 M268.2 885V889 M313.2 885V889 M358.3 885V889 M403.4 885V889 M448.5 885V889 M493.5 885V889" stroke-width="1"/>
</g>
<g class="sans" font-size="11.5" fill="#111" text-anchor="end">
<text x="74.6" y="588.5" textLength="18" lengthAdjust="spacingAndGlyphs">2.5</text>
<text x="73.8" y="648">2</text>
<text x="74" y="708.5" textLength="17" lengthAdjust="spacingAndGlyphs">1.5</text>
<text x="73.8" y="768.5">1</text>
<text x="73.3" y="827.2" textLength="16.6" lengthAdjust="spacingAndGlyphs">0.5</text>
<text x="73.6" y="887.5">0</text>
</g>
<g class="sans" font-size="11.5" fill="#111" text-anchor="middle">
<text x="88" y="900">250</text>
<text x="133.5" y="900">500</text>
<text x="178.5" y="900">750</text>
<text x="222.8" y="900">1000</text>
<text x="268.2" y="900">1250</text>
<text x="314" y="900">1500</text>
<text x="359.2" y="900">1750</text>
<text x="403.6" y="900">2000</text>
<text x="448.7" y="900">2250</text>
<text x="493.7" y="900">2500</text>
</g>
<text class="sans" x="228.9" y="924.8" font-size="19" fill="#111" textLength="132.4" lengthAdjust="spacingAndGlyphs">Wavelength (nm)</text>
<text class="sans" transform="translate(47,834.3) rotate(-90)" font-size="17" fill="#111" textLength="86.5" lengthAdjust="spacingAndGlyphs">Irradiance</text><text class="sans" transform="translate(47,741) rotate(-90)" font-size="17" fill="#111" textLength="99.5" lengthAdjust="spacingAndGlyphs">(W / m&#178; / nm)</text>
<g class="sans" font-size="13.5" fill="#111">
<text x="87.6" y="604.5" textLength="15" lengthAdjust="spacingAndGlyphs">UV</text>
<text x="122" y="604.5" textLength="36.4" lengthAdjust="spacingAndGlyphs">Visible</text>
<text x="181" y="604.5" textLength="46" lengthAdjust="spacingAndGlyphs">Infrared</text>
</g>
<path d="M244.5 598.7H479" stroke="#666" stroke-width="1.3"/>
<path d="M477.5 593.2L486 598.7L477.5 604.2Z" fill="#000"/>
<text class="sans" x="180.7" y="672.8" font-size="13" fill="#9c9a26" stroke="#9c9a26" stroke-width="0.3" textLength="230" lengthAdjust="spacingAndGlyphs">Sunlight without atmospheric absorption</text>
<path d="M187.3 676L145.6 704" stroke="#222" stroke-width="1.1"/>
<path d="M143 697.5L139.1 707.2L148.8 706.6Z" fill="#000"/>
<text class="sans" x="240" y="741.1" font-size="13" fill="#1a1a1a" stroke="#1a1a1a" stroke-width="0.3" textLength="94" lengthAdjust="spacingAndGlyphs">5778K blackbody</text>
<path d="M238.9 744.4L212 764" stroke="#222" stroke-width="1.1"/>
<path d="M211 759L207.2 767.8L216.7 767.2Z" fill="#000"/>
<text class="sans" x="287.3" y="788.9" font-size="13" fill="#6e3838" stroke="#6e3838" stroke-width="0.3" textLength="113.4" lengthAdjust="spacingAndGlyphs">Sunlight at sea level</text>
<path d="M340.5 795.6V868" stroke="#000" stroke-width="1.4"/>
<path d="M336.8 867L340.5 875.5L344.2 867Z" fill="#000"/>
<g class="sans" font-size="13" fill="#33307c" stroke="#33307c" stroke-width="0.3">
<text x="373.7" y="823.8" textLength="70.3" lengthAdjust="spacingAndGlyphs">Atmospheric</text>
<text x="373.7" y="839.5" textLength="96.3" lengthAdjust="spacingAndGlyphs">absorption bands</text>
</g>
<text class="sans" transform="translate(232.09 796.10) scale(0.812 1)" font-size="13.66" fill="#2c2c78" stroke="#2c2c78" stroke-width="0.35">H</text><text class="sans" transform="translate(239.54 800.60) scale(1.038 1)" font-size="8.88" fill="#2c2c78" stroke="#2c2c78" stroke-width="0.25">2</text><text class="sans" transform="translate(244.15 796.30) scale(0.825 1)" font-size="14.04" fill="#2c2c78" stroke="#2c2c78" stroke-width="0.35">O</text><text class="sans" transform="translate(198.69 874.40) scale(0.812 1)" font-size="13.66" fill="#7e1b78" stroke="#7e1b78" stroke-width="0.35">H</text><text class="sans" transform="translate(206.14 878.90) scale(1.038 1)" font-size="8.88" fill="#7e1b78" stroke="#7e1b78" stroke-width="0.25">2</text><text class="sans" transform="translate(210.75 874.60) scale(0.825 1)" font-size="14.04" fill="#7e1b78" stroke="#7e1b78" stroke-width="0.35">O</text><text class="sans" transform="translate(281.89 830.00) scale(0.812 1)" font-size="13.66" fill="#2c2c78" stroke="#2c2c78" stroke-width="0.35">H</text><text class="sans" transform="translate(289.34 834.50) scale(1.038 1)" font-size="8.88" fill="#2c2c78" stroke="#2c2c78" stroke-width="0.25">2</text><text class="sans" transform="translate(293.95 830.20) scale(0.825 1)" font-size="14.04" fill="#2c2c78" stroke="#2c2c78" stroke-width="0.35">O</text><text class="sans" transform="translate(362.79 861.90) scale(0.812 1)" font-size="13.66" fill="#2c2c78" stroke="#2c2c78" stroke-width="0.35">H</text><text class="sans" transform="translate(370.24 866.40) scale(1.038 1)" font-size="8.88" fill="#2c2c78" stroke="#2c2c78" stroke-width="0.25">2</text><text class="sans" transform="translate(374.85 862.10) scale(0.825 1)" font-size="14.04" fill="#2c2c78" stroke="#2c2c78" stroke-width="0.35">O</text><text class="sans" transform="translate(476.49 874.80) scale(0.812 1)" font-size="13.66" fill="#2c2c78" stroke="#2c2c78" stroke-width="0.35">H</text><text class="sans" transform="translate(483.94 879.30) scale(1.038 1)" font-size="8.88" fill="#2c2c78" stroke="#2c2c78" stroke-width="0.25">2</text><text class="sans" transform="translate(488.55 875.00) scale(0.825 1)" font-size="14.04" fill="#2c2c78" stroke="#2c2c78" stroke-width="0.35">O</text><text class="sans" transform="translate(399.21 866.70) scale(0.708 1)" font-size="13.61" fill="#2c2c78" stroke="#2c2c78" stroke-width="0.35">C</text><text class="sans" transform="translate(407.00 866.70) scale(0.775 1)" font-size="13.61" fill="#2c2c78" stroke="#2c2c78" stroke-width="0.35">O</text><text class="sans" transform="translate(414.24 871.40) scale(1.006 1)" font-size="9.17" fill="#2c2c78" stroke="#2c2c78" stroke-width="0.25">2</text><text class="sans" transform="translate(173.51 848.40) scale(0.796 1)" font-size="12.89" fill="#7e1b78" stroke="#7e1b78" stroke-width="0.35">O</text><text class="sans" transform="translate(180.24 854.40) scale(1.073 1)" font-size="8.59" fill="#7e1b78" stroke="#7e1b78" stroke-width="0.25">2</text><text class="sans" transform="translate(84.44 876.10) scale(0.770 1)" font-size="12.75" fill="#2c2c78" stroke="#2c2c78" stroke-width="0.35">O</text><text class="sans" transform="translate(92.43 880.60) scale(0.784 1)" font-size="8.88" fill="#8a7a20" stroke="#8a7a20" stroke-width="0.25">3</text>
</svg>
</body></html>
